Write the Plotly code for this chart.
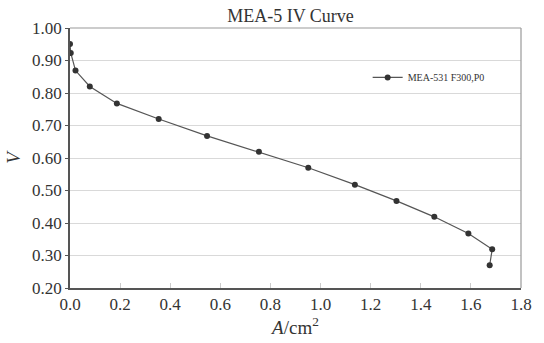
import plotly.graph_objects as go

# Polarisation data for MEA-531 (current density vs cell voltage)
current_density = [0.0, 0.003, 0.022, 0.079, 0.187, 0.354, 0.547, 0.754, 0.951,
                   1.137, 1.303, 1.454, 1.590, 1.685, 1.675]
voltage = [0.951, 0.923, 0.869, 0.820, 0.768, 0.720, 0.668, 0.619, 0.570,
           0.518, 0.468, 0.419, 0.368, 0.319, 0.270]

series_name = "MEA-531 F300,P0"
x_ticks = [0.0, 0.2, 0.4, 0.6, 0.8, 1.0, 1.2, 1.4, 1.6, 1.8]
y_ticks = [0.20, 0.30, 0.40, 0.50, 0.60, 0.70, 0.80, 0.90, 1.00]

serif = "Liberation Serif, Times New Roman, serif"

fig = go.Figure()
fig.add_trace(go.Scatter(
    x=current_density, y=voltage, mode="lines+markers", name=series_name,
    line=dict(color="#555555", width=1.2),
    marker=dict(color="#333333", size=6),
))

fig.update_layout(
    width=544, height=343,
    margin=dict(l=70, r=15, t=28, b=53),
    paper_bgcolor="white", plot_bgcolor="white",
    font=dict(family=serif, color="#333333", size=16),
    title=dict(text="MEA-5 IV Curve", x=0.534, xanchor="center",
               y=1 - 16 / 343, yanchor="middle",
               font=dict(family=serif, size=18, color="#333333")),
    showlegend=True,
    legend=dict(x=0.66, y=0.81, xanchor="left", yanchor="middle",
                bgcolor="rgba(0,0,0,0)", font=dict(family=serif, size=10, color="#333333"),
                itemwidth=30),
)

fig.update_xaxes(
    range=[0, 1.8], tickvals=x_ticks, ticktext=[f"{v:.1f}" for v in x_ticks],
    showgrid=False, zeroline=False,
    showline=True, linecolor="#555555", linewidth=1.5, mirror=False,
    ticks="inside", ticklen=5, tickcolor="#cccccc",
    tickfont=dict(family=serif, size=17),
    title=dict(text="<i>A</i>/cm<sup>2</sup>", font=dict(family=serif, size=19), standoff=4),
)
fig.update_yaxes(
    range=[0.2, 1.0], tickvals=y_ticks, ticktext=[f"{v:.2f}" for v in y_ticks],
    showgrid=True, gridcolor="#d9d9d9", gridwidth=1, zeroline=False,
    showline=True, linecolor="#555555", linewidth=1.5,
    ticks="outside", ticklen=3, tickcolor="#555555",
    tickfont=dict(family=serif, size=17),
    title=dict(text="<i>V</i>", font=dict(family=serif, size=19), standoff=6),
)

# thin frame on the top and right edges of the plotting area
fig.add_shape(type="line", xref="paper", yref="paper", x0=0, x1=1, y0=1, y1=1,
              line=dict(color="#999999", width=1.2))
fig.add_shape(type="line", xref="paper", yref="paper", x0=1, x1=1, y0=0, y1=1,
              line=dict(color="#999999", width=1.2))

fig.write_html("out.html")
